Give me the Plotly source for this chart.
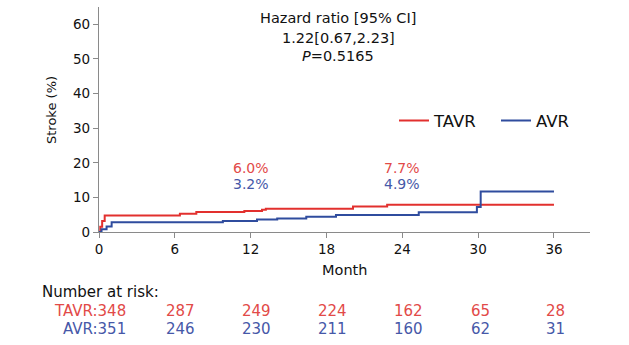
import plotly.graph_objects as go

# ---- data ----
tavr_months = [0, 0.1, 0.25, 0.45, 6.4, 7.7, 11.5, 12.9, 13.2, 20.1, 22.8, 36]
tavr_values = [0, 1.5, 3.2, 4.8, 5.3, 5.8, 6.1, 6.4, 6.7, 7.4, 7.9, 7.9]
avr_months = [0, 0.2, 0.6, 1.0, 9.8, 12.5, 14.1, 16.4, 18.75, 25.3, 29.9, 30.2, 36]
avr_values = [0, 0.8, 1.6, 2.8, 3.2, 3.6, 3.9, 4.4, 4.9, 5.7, 7.2, 11.7, 11.7]

x_ticks = [0, 6, 12, 18, 24, 30, 36]
y_ticks = [0, 10, 20, 30, 40, 50, 60]

risk_months = [0, 6, 12, 18, 24, 30, 36]
risk_tavr = [348, 287, 249, 224, 162, 65, 28]
risk_avr = [351, 246, 230, 211, 160, 62, 31]

pct_months = [12, 24]
pct_tavr = ["6.0%", "7.7%"]
pct_avr = ["3.2%", "4.9%"]

hr_lines = ["Hazard ratio [95% CI]", "1.22[0.67,2.23]", "<i>P</i>=0.5165"]

RED = "#e2302e"
BLUE = "#2f4c9e"
RED_T = "#e24a48"
BLUE_T = "#4658a8"
FONT = "DejaVu Sans"

fig = go.Figure()
fig.add_trace(go.Scatter(x=tavr_months, y=tavr_values, mode="lines", name="TAVR",
                         line=dict(color=RED, width=2, shape="hv")))
fig.add_trace(go.Scatter(x=avr_months, y=avr_values, mode="lines", name="AVR",
                         line=dict(color=BLUE, width=2, shape="hv")))

L, R, T, B = 99, 39, 7, 113
W, H = 629, 345
pw = W - L - R
ph = H - T - B


def px(xp):
    return (xp - L) / pw


def py(yp):
    return (H - B - yp) / ph


ann = []
# hazard ratio block
for i, (txt, yy) in enumerate(zip(hr_lines, [18, 37.5, 56.5])):
    ann.append(dict(text=txt, x=px(338), y=py(yy), xref="paper", yref="paper",
                    showarrow=False, xanchor="center", yanchor="middle",
                    font=dict(family=FONT, size=14.5, color="#111")))
# percent labels
for m, t in zip(pct_months, pct_tavr):
    ann.append(dict(text=t, x=m, y=py(167.5), xref="x", yref="paper", showarrow=False,
                    xanchor="center", yanchor="middle",
                    font=dict(family=FONT, size=14, color=RED_T)))
for m, t in zip(pct_months, pct_avr):
    ann.append(dict(text=t, x=m, y=py(183.5), xref="x", yref="paper", showarrow=False,
                    xanchor="center", yanchor="middle",
                    font=dict(family=FONT, size=14, color=BLUE_T)))
# y title
ann.append(dict(text="Stroke (%)", x=px(52), y=py(110), xref="paper", yref="paper",
                showarrow=False, textangle=-90, xanchor="center", yanchor="middle",
                font=dict(family=FONT, size=13, color="#111")))
# x title
ann.append(dict(text="Month", x=px(344), y=py(270), xref="paper", yref="paper",
                showarrow=False, xanchor="center", yanchor="middle",
                font=dict(family=FONT, size=14.5, color="#111")))
# number at risk
ann.append(dict(text="Number at risk:", x=px(40), y=py(292), xref="paper", yref="paper",
                showarrow=False, xanchor="left", yanchor="middle",
                font=dict(family=FONT, size=15, color="#111")))
for row, vals, col, lab, yy in [(0, risk_tavr, RED_T, "TAVR", 310.5), (1, risk_avr, BLUE_T, "AVR", 328.5)]:
    for i, (m, v) in enumerate(zip(risk_months, vals)):
        if i == 0:
            ann.append(dict(text=f"{lab}:{v}", x=px(128), y=py(yy), xref="paper", yref="paper",
                            showarrow=False, xanchor="right", yanchor="middle",
                            font=dict(family=FONT, size=15, color=col)))
        else:
            ann.append(dict(text=str(v), x=m, y=py(yy), xref="x", yref="paper",
                            showarrow=False, xanchor="center", yanchor="middle",
                            xshift=6 if v >= 100 else 2,
                            font=dict(family=FONT, size=15, color=col)))

fig.update_layout(
    width=W, height=H,
    margin=dict(l=L, r=R, t=T, b=B, pad=0),
    paper_bgcolor="white", plot_bgcolor="white",
    font=dict(family=FONT, color="#111"),
    showlegend=True,
    legend=dict(orientation="h", x=px(394), y=py(120.7), xanchor="left", yanchor="middle",
                font=dict(family=FONT, size=16.5, color="#111"),
                bgcolor="rgba(0,0,0,0)", entrywidth=57, entrywidthmode="pixels",
                itemwidth=30),
    annotations=ann,
)
fig.update_xaxes(range=[0, 38.85], tickvals=x_ticks, ticktext=[str(v) for v in x_ticks],
                 showline=True, linecolor="#8a8a8a", linewidth=1.3,
                 ticks="outside", ticklen=5, tickcolor="#8a8a8a", tickwidth=1.3,
                 showgrid=False, zeroline=False,
                 tickfont=dict(family=FONT, size=13.5, color="#111"))
fig.update_yaxes(range=[0, 65], tickvals=y_ticks,
                 showline=True, linecolor="#8a8a8a", linewidth=1.3,
                 ticks="outside", ticklen=5, tickcolor="#8a8a8a", tickwidth=1.3,
                 showgrid=False, zeroline=False,
                 tickfont=dict(family=FONT, size=13.5, color="#111"))

fig.write_html("out.html")
